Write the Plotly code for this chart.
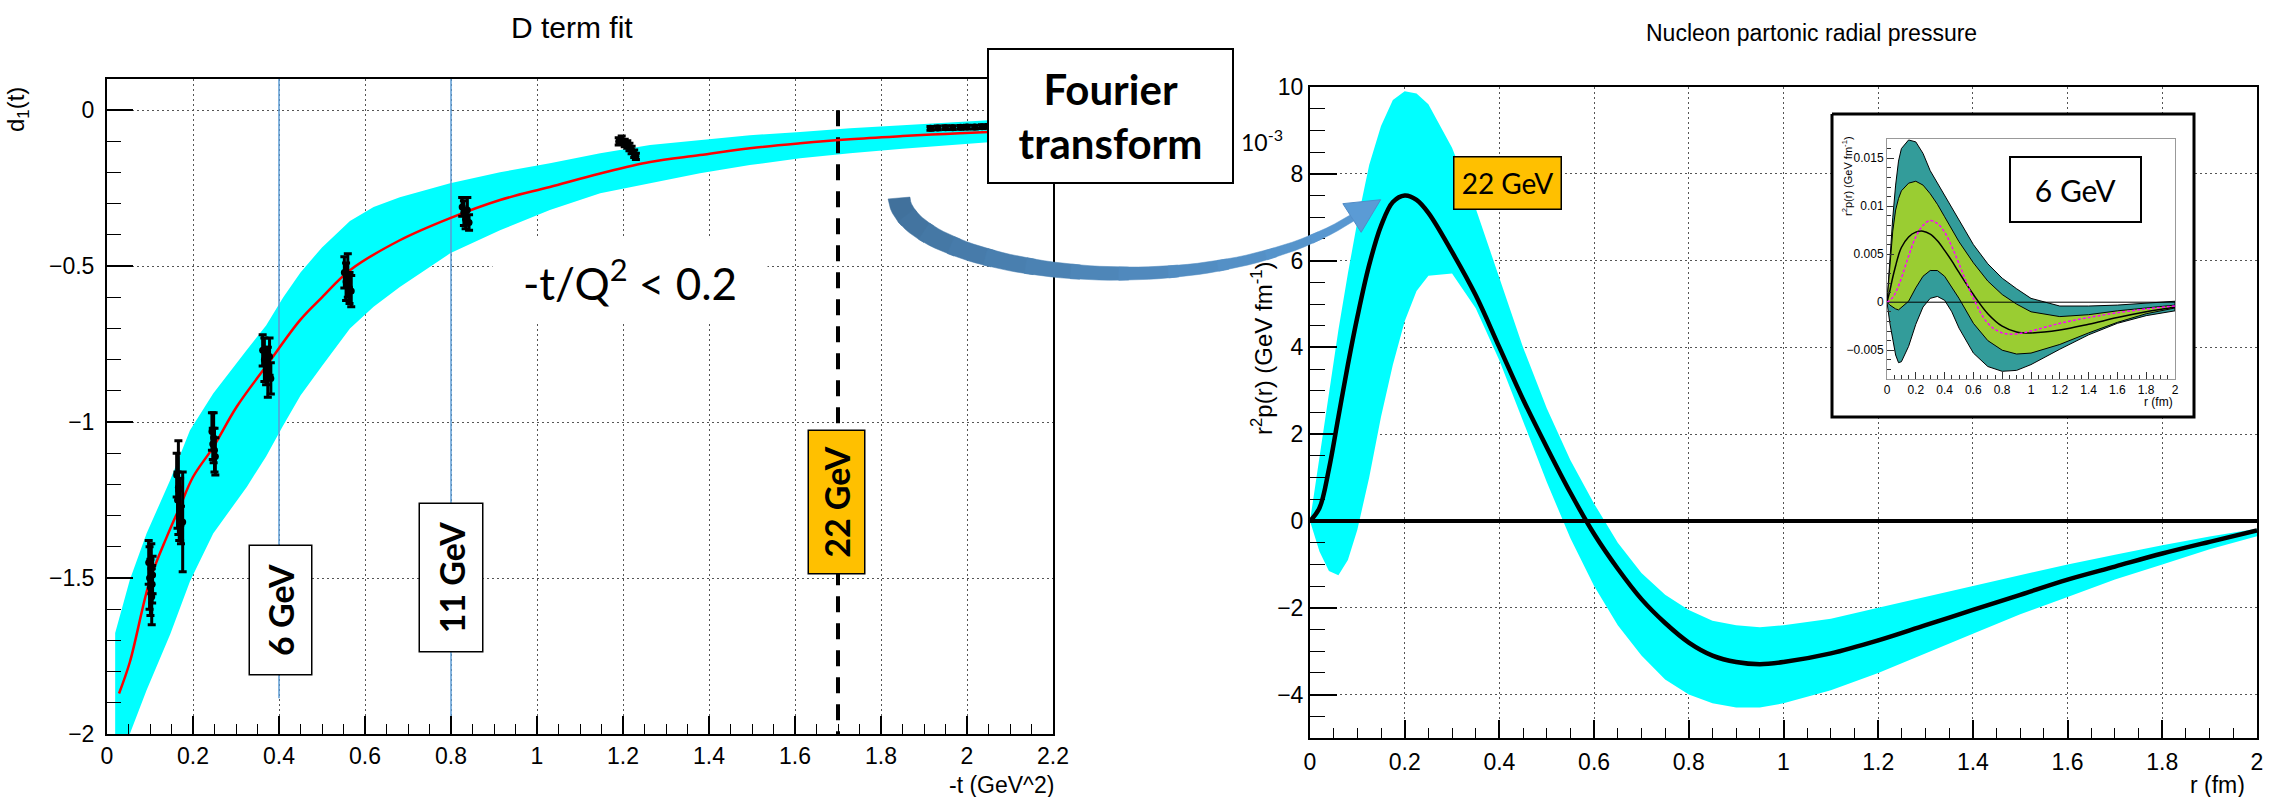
import numpy as np
import plotly.graph_objects as go

W, H = 2272, 797
ROOT = "Liberation Sans, Arial, Helvetica, sans-serif"
SLIDE = "Lato, Open Sans, sans-serif"

# ---------------- Left panel: D term fit ----------------
fit_t = [0.028, 0.053, 0.10, 0.139, 0.17, 0.20, 0.247, 0.302, 0.372, 0.449, 0.50, 0.565, 0.681,
         0.798, 0.914, 1.03, 1.147, 1.263, 1.379, 1.495, 1.612, 1.728, 1.85, 1.95, 2.05, 2.2]
fit_d = [-1.87, -1.77, -1.506, -1.368, -1.27, -1.176, -1.08, -0.95, -0.817, -0.673, -0.60, -0.513,
         -0.417, -0.346, -0.288, -0.246, -0.203, -0.166, -0.144, -0.122, -0.106, -0.093, -0.083,
         -0.076, -0.07, -0.062]
band_t = [0.019, 0.053, 0.092, 0.147, 0.193, 0.247, 0.325, 0.37, 0.41, 0.45, 0.50, 0.565, 0.62,
          0.681, 0.798, 0.914, 1.03, 1.147, 1.263, 1.379, 1.495, 1.612, 1.728, 1.85, 1.95, 2.05,
          2.2]
band_up = [-1.676, -1.506, -1.357, -1.186, -1.026, -0.908, -0.769, -0.69, -0.60, -0.52, -0.44,
           -0.355, -0.31, -0.279, -0.234, -0.199, -0.17, -0.138, -0.112, -0.096, -0.08, -0.07,
           -0.058, -0.048, -0.04, -0.032, -0.025]
band_lo = [-2.2, -2.0, -1.86, -1.68, -1.51, -1.357, -1.208, -1.11, -1.01, -0.915, -0.82, -0.70,
           -0.63, -0.567, -0.459, -0.385, -0.32, -0.266, -0.234, -0.202, -0.176, -0.154, -0.138,
           -0.124, -0.113, -0.103, -0.09]

pts_t = [0.097, 0.099, 0.101, 0.103, 0.104, 0.105, 0.106,
         0.162, 0.164, 0.166, 0.168, 0.170, 0.172, 0.176,
         0.244, 0.246, 0.248, 0.250, 0.252,
         0.362, 0.366, 0.370, 0.374, 0.378, 0.381,
         0.552, 0.556, 0.560, 0.564, 0.568,
         0.826, 0.830, 0.834, 0.838, 0.842,
         1.190, 1.197, 1.204, 1.210, 1.215, 1.220, 1.226, 1.230,
         1.915, 1.932, 1.950, 1.967, 1.985, 2.000, 2.018, 2.035, 2.050]
pts_d = [-1.45, -1.50, -1.53, -1.47, -1.56, -1.52, -1.49,
         -1.17, -1.25, -1.21, -1.30, -1.28, -1.33, -1.32,
         -1.03, -1.07, -1.05, -1.09, -1.11,
         -0.77, -0.80, -0.82, -0.84, -0.79, -0.86,
         -0.52, -0.55, -0.53, -0.57, -0.58,
         -0.31, -0.33, -0.35, -0.32, -0.36,
         -0.100, -0.095, -0.105, -0.110, -0.118, -0.128, -0.140, -0.148,
         -0.058, -0.057, -0.056, -0.056, -0.055, -0.054, -0.054, -0.053, -0.052]
pts_err = [0.07, 0.10, 0.09, 0.08, 0.09, 0.06, 0.06,
           0.07, 0.09, 0.15, 0.08, 0.10, 0.06, 0.16,
           0.06, 0.05, 0.08, 0.07, 0.06,
           0.05, 0.07, 0.06, 0.08, 0.06, 0.05,
           0.05, 0.06, 0.07, 0.05, 0.05,
           0.03, 0.04, 0.03, 0.04, 0.025,
           0.012, 0.012, 0.012, 0.012, 0.012, 0.012, 0.012, 0.010,
           0.006, 0.006, 0.006, 0.006, 0.006, 0.006, 0.006, 0.006, 0.006]

beam_lines_t = [0.4, 0.8]          # 6 GeV and 11 GeV reach
beam_lines_bottom = [-1.885, -1.97]
cut_t = 1.7                         # 22 GeV reach

# ---------------- Right panel: radial pressure (x 1e-3) ----------------
r_vals = [0, 0.02, 0.04, 0.06, 0.08, 0.1, 0.125, 0.15, 0.175, 0.2, 0.225, 0.25, 0.3, 0.35, 0.4,
          0.45, 0.5, 0.55, 0.6, 0.65, 0.7, 0.75, 0.8, 0.85, 0.9, 0.95, 1.0, 1.1, 1.2, 1.3, 1.4,
          1.5, 1.6, 1.7, 1.8, 1.9, 2.0]
p_center = [0, 0.3, 1.2, 2.4, 3.6, 4.7, 5.9, 6.8, 7.35, 7.5, 7.4, 7.1, 6.2, 5.2, 4.0, 2.8, 1.7,
            0.65, -0.3, -1.1, -1.8, -2.35, -2.8, -3.1, -3.25, -3.3, -3.25, -3.05, -2.75, -2.4,
            -2.05, -1.7, -1.35, -1.05, -0.75, -0.48, -0.22]
p_up = [0, 1.5, 3.0, 4.4, 5.7, 6.9, 8.2, 9.1, 9.7, 9.9, 9.85, 9.6, 8.6, 7.2, 5.6, 4.0, 2.6, 1.4,
        0.4, -0.5, -1.2, -1.7, -2.05, -2.3, -2.4, -2.45, -2.4, -2.25, -2.0, -1.75, -1.5, -1.25,
        -1.0, -0.78, -0.56, -0.36, -0.18]
p_lo = [0, -0.7, -1.15, -1.25, -0.9, -0.2, 1.0, 2.4, 3.6, 4.6, 5.3, 5.65, 5.7, 4.9, 3.7, 2.3, 0.9,
        -0.4, -1.5, -2.4, -3.1, -3.65, -4.0, -4.2, -4.3, -4.3, -4.2, -3.9, -3.5, -3.05, -2.6,
        -2.15, -1.75, -1.35, -1.0, -0.65, -0.35]

# ---------------- Inset: 6 GeV projection ----------------
ri = [0, 0.02, 0.04, 0.06, 0.08, 0.1, 0.15, 0.2, 0.25, 0.3, 0.35, 0.4, 0.45, 0.5, 0.6, 0.7, 0.8,
      0.9, 1.0, 1.2, 1.4, 1.6, 1.8, 2.0]
in_outer_up = [0, 0.0045, 0.0088, 0.0122, 0.0147, 0.0160, 0.0169, 0.0167, 0.0155, 0.0137, 0.0124,
               0.0111, 0.0098, 0.0085, 0.0060, 0.0040, 0.0025, 0.0014, 0.0004, -0.0004, -0.0004,
               -0.0003, -0.0001, 0.0001]
in_outer_lo = [0, -0.0022, -0.0040, -0.0055, -0.0063, -0.0062, -0.0046, -0.0023, -0.0005, 0.0004,
               0.0006, 0.0002, -0.0010, -0.0027, -0.0053, -0.0067, -0.0072, -0.0071, -0.0065,
               -0.0049, -0.0034, -0.0022, -0.0014, -0.0009]
in_green_up = [0, 0.0040, 0.0074, 0.0096, 0.0108, 0.0116, 0.0124, 0.0126, 0.0122, 0.0113, 0.0102,
               0.0089, 0.0076, 0.0063, 0.0041, 0.0022, 0.0008, -0.0002, -0.0010, -0.0015, -0.0013,
               -0.0009, -0.0006, -0.0003]
in_green_lo = [0, -0.0003, -0.0005, -0.0007, -0.0008, -0.0006, 0.0001, 0.0015, 0.0027, 0.0033,
               0.0033, 0.0027, 0.0016, 0.0004, -0.0022, -0.0040, -0.0050, -0.0054, -0.0053,
               -0.0044, -0.0032, -0.0021, -0.0012, -0.0006]
in_center = [0, 0.0012, 0.0026, 0.0038, 0.0049, 0.0057, 0.0068, 0.0073, 0.0074, 0.0071, 0.0064,
             0.0054, 0.0043, 0.0031, 0.0008, -0.0012, -0.0025, -0.0031, -0.0032, -0.0029, -0.0023,
             -0.0016, -0.0010, -0.0005]
in_magenta = [0, 0.0002, 0.0005, 0.0010, 0.0017, 0.0025, 0.0048, 0.0068, 0.0080, 0.0085, 0.0082,
              0.0073, 0.0058, 0.0040, 0.0004, -0.0022, -0.0032, -0.0033, -0.0030, -0.0022,
              -0.0016, -0.0011, -0.0007, -0.0004]
in_yticks = [-0.005, 0, 0.005, 0.01, 0.015]

fig = go.Figure()

# ---- left panel traces ----
fig.add_trace(go.Scatter(x=band_t + band_t[::-1], y=band_up + band_lo[::-1], fill="toself",
                         fillcolor="#00ffff", line=dict(width=0), mode="lines",
                         xaxis="x", yaxis="y", hoverinfo="skip"))
bx, by = [], []
for t, yb in zip(beam_lines_t, beam_lines_bottom):
    bx += [t, t, None]
    by += [0.1, yb, None]
fig.add_trace(go.Scatter(x=bx, y=by, mode="lines", line=dict(color="#5b9bd5", width=1.5),
                         xaxis="x", yaxis="y"))
fig.add_trace(go.Scatter(x=[cut_t, cut_t], y=[0, -2.1], mode="lines",
                         line=dict(color="black", width=4, dash="16px,11px"),
                         xaxis="x", yaxis="y"))
fig.add_trace(go.Scatter(x=fit_t, y=fit_d, mode="lines", line=dict(color="#ff0000", width=2.5),
                         line_shape="spline", xaxis="x", yaxis="y"))
fig.add_trace(go.Scatter(x=pts_t, y=pts_d, mode="markers",
                         marker=dict(color="black", size=7),
                         error_y=dict(type="data", array=pts_err, color="black", thickness=3,
                                      width=4),
                         xaxis="x", yaxis="y"))

# ---- right panel traces ----
fig.add_trace(go.Scatter(x=r_vals + r_vals[::-1], y=p_up + p_lo[::-1], fill="toself",
                         fillcolor="#00ffff", line=dict(width=0), mode="lines",
                         xaxis="x2", yaxis="y2"))
fig.add_trace(go.Scatter(x=[0, 2], y=[0, 0], mode="lines", line=dict(color="black", width=4),
                         xaxis="x2", yaxis="y2"))
fig.add_trace(go.Scatter(x=r_vals, y=p_center, mode="lines", line=dict(color="black", width=4.5),
                         line_shape="spline", xaxis="x2", yaxis="y2"))

# ---- overlay (pixel space) decorations ----
fig.add_trace(go.Scatter(x=[1832, 2194, 2194, 1832, 1832], y=[114, 114, 417, 417, 114],
                         fill="toself", fillcolor="white", mode="lines",
                         line=dict(color="black", width=3), xaxis="x3", yaxis="y3"))

P = np.array([[899, 198], [905, 270], [1200, 315], [1352, 218]], float)
tt = np.linspace(0, 1, 61)
B = (((1 - tt) ** 3)[:, None] * P[0] + (3 * (1 - tt) ** 2 * tt)[:, None] * P[1]
     + (3 * (1 - tt) * tt ** 2)[:, None] * P[2] + (tt ** 3)[:, None] * P[3])
dB = ((3 * (1 - tt) ** 2)[:, None] * (P[1] - P[0]) + (6 * (1 - tt) * tt)[:, None] * (P[2] - P[1])
      + (3 * tt ** 2)[:, None] * (P[3] - P[2]))
T = dB / np.linalg.norm(dB, axis=1)[:, None]
N = np.stack([-T[:, 1], T[:, 0]], axis=1)
wid = 22 + (7 - 22) * tt
L = B + N * (wid / 2)[:, None]
R = B - N * (wid / 2)[:, None]
c0 = np.array([65, 113, 156])
c1 = np.array([91, 155, 213])
nseg = 12
idx = np.linspace(0, len(tt) - 1, nseg + 1).astype(int)
for k in range(nseg):
    a, b = idx[k], min(idx[k + 1] + 1, len(tt) - 1)
    poly = np.vstack([L[a:b + 1], R[a:b + 1][::-1]])
    col = c0 + (c1 - c0) * (k / nseg)
    cs = "rgb(%d,%d,%d)" % tuple(col)
    fig.add_trace(go.Scatter(x=list(poly[:, 0]) + [poly[0, 0]], y=list(poly[:, 1]) + [poly[0, 1]],
                             fill="toself", fillcolor=cs, mode="lines",
                             line=dict(color=cs, width=0.5), xaxis="x3", yaxis="y3"))
Te, Ne = T[-1], N[-1]
head = np.array([P[3] + Ne * 17, P[3] + Te * 34, P[3] - Ne * 17, P[3] + Ne * 17])
fig.add_trace(go.Scatter(x=head[:, 0], y=head[:, 1], fill="toself", fillcolor="rgb(91,155,213)",
                         mode="lines", line=dict(color="rgb(80,140,200)", width=1),
                         xaxis="x3", yaxis="y3"))

# ---- inset traces ----
fig.add_trace(go.Scatter(x=ri + ri[::-1], y=in_outer_up + in_outer_lo[::-1], fill="toself",
                         fillcolor="#339c9a", mode="lines", line=dict(color="black", width=1),
                         xaxis="x4", yaxis="y4"))
fig.add_trace(go.Scatter(x=ri + ri[::-1], y=in_green_up + in_green_lo[::-1], fill="toself",
                         fillcolor="#9acd32", mode="lines", line=dict(color="black", width=1),
                         xaxis="x4", yaxis="y4"))
fig.add_trace(go.Scatter(x=[0, 2], y=[0, 0], mode="lines", line=dict(color="black", width=1),
                         xaxis="x4", yaxis="y4"))
fig.add_trace(go.Scatter(x=ri, y=in_center, mode="lines", line=dict(color="black", width=1.5),
                         line_shape="spline", xaxis="x4", yaxis="y4"))
fig.add_trace(go.Scatter(x=ri, y=in_magenta, mode="lines",
                         line=dict(color="#ff00ff", width=1.5, dash="3px,2px"),
                         line_shape="spline", xaxis="x4", yaxis="y4"))

# ---------------- axes ----------------
tickfont = dict(family=ROOT, size=23, color="black")
grid = dict(showgrid=True, gridcolor="#555", gridwidth=1, griddash="2px,3px")
frame = dict(showline=True, linecolor="black", linewidth=2, mirror=True, zeroline=False,
             ticks="inside", tickcolor="black", tickwidth=1.5, tickfont=tickfont,
             automargin=False)


def minor(dt, ln):
    return dict(ticks="inside", dtick=dt, ticklen=ln, tickcolor="black", tickwidth=1.2,
                showgrid=False)


inset_font = dict(family=ROOT, size=12, color="black")

fig.update_layout(
    template="none",
    width=W, height=H, autosize=False,
    margin=dict(l=0, r=0, t=0, b=0, pad=0),
    paper_bgcolor="white", plot_bgcolor="rgba(0,0,0,0)",
    showlegend=False,
    xaxis=dict(domain=[107 / W, 1053 / W], range=[0, 2.2], dtick=0.2, tick0=0, ticklen=18,
               minor=minor(0.05, 10), ticklabelstandoff=0, anchor="y", **frame, **grid),
    yaxis=dict(domain=[1 - 734 / H, 1 - 79 / H], range=[-2, 0.1], dtick=0.5, tick0=0,
               ticklen=26, minor=minor(0.1, 14), ticklabelstandoff=6, anchor="x",
               **frame, **grid),
    xaxis2=dict(domain=[1310 / W, 2257 / W], range=[0, 2], dtick=0.2, tick0=0, ticklen=18,
                minor=minor(0.05, 10), ticklabelstandoff=2, anchor="y2", **frame, **grid),
    yaxis2=dict(domain=[1 - 738 / H, 1 - 87 / H], range=[-5, 10], dtick=2, tick0=0,
                ticklen=27, minor=minor(0.5, 15), ticklabelstandoff=0, anchor="x2",
                **frame, **grid),
    xaxis3=dict(domain=[0, 1], range=[0, W], visible=False, anchor="y3", automargin=False),
    yaxis3=dict(domain=[0, 1], range=[H, 0], visible=False, anchor="x3", automargin=False),
    xaxis4=dict(domain=[1887 / W, 2175 / W], range=[0, 2], dtick=0.2, tick0=0, showline=True,
                linecolor="#999", linewidth=1, mirror=True, zeroline=False, showgrid=False,
                ticks="inside", ticklen=7, tickcolor="#333", tickwidth=1,
                minor=dict(ticks="inside", dtick=0.05, ticklen=4, tickcolor="#333", showgrid=False),
                tickfont=inset_font, anchor="y4", automargin=False, ticklabelstandoff=0),
    yaxis4=dict(domain=[1 - 379 / H, 1 - 139 / H], range=[-0.008, 0.017], tickvals=in_yticks,
                showline=True, linecolor="#999", linewidth=1, mirror=True, zeroline=False,
                showgrid=False, ticks="inside", ticklen=7, tickcolor="#333", tickwidth=1,
                minor=dict(ticks="inside", dtick=0.001, ticklen=4, tickcolor="#333",
                           showgrid=False),
                tickfont=inset_font, anchor="x4", automargin=False, ticklabelstandoff=0),
)

ann = []


def label(text, x, y, size, family=ROOT, **kw):
    d = dict(text=text, x=x, y=y, xref="x3", yref="y3", showarrow=False,
             font=dict(family=family, size=size, color="black"))
    d.update(kw)
    ann.append(d)


label("D term fit", 572, 27, 30)
label("Nucleon partonic radial pressure", 1811, 33, 23)
label("d<sub>1</sub>(t)", 17, 110, 24, textangle=-90)
label("-t (GeV^2)", 1056, 785, 23, xanchor="right")
label("r (fm)", 2247, 785, 23, xanchor="right")
label("r<sup>2</sup>p(r) (GeV fm<sup>-1</sup>)", 1262, 348, 24, textangle=-90)
label("10<sup>-3</sup>", 1262, 140, 23, SLIDE)
label("<b>Fourier<br>transform</b>", 1110, 115.5, 42, SLIDE, width=243, height=132,
      bgcolor="white", bordercolor="black", borderwidth=2, borderpad=0)
label("-t/Q<sup>2</sup> &lt; 0.2", 630, 280, 44, SLIDE, width=274, height=86, bgcolor="white",
      borderpad=0)
label("<b>6 GeV</b>", 280, 610.5, 34, SLIDE, textangle=-90, width=128, height=61,
      bgcolor="white", bordercolor="black", borderwidth=1.5, borderpad=0)
label("<b>11 GeV</b>", 450.5, 578, 34, SLIDE, textangle=-90, width=147, height=62,
      bgcolor="white", bordercolor="black", borderwidth=1.5, borderpad=0)
label("<b>22 GeV</b>", 836, 502.5, 34, SLIDE, textangle=-90, width=142, height=55,
      bgcolor="#ffc000", bordercolor="black", borderwidth=1.5, borderpad=0)
label("22 GeV", 1507.5, 183, 28, SLIDE, width=106, height=51, bgcolor="#ffc000",
      bordercolor="black", borderwidth=1.5, borderpad=0)
label("6 GeV", 2075, 189, 30, SLIDE, width=129, height=63, bgcolor="white",
      bordercolor="black", borderwidth=2, borderpad=0)
label("r<sup>2</sup>p(r) (GeV fm<sup>-1</sup>)", 1847, 176, 11, textangle=-90)
label("r (fm)", 2175, 402, 12, xanchor="right")

fig.update_layout(annotations=ann)

fig.write_html("out.html",
               post_script="document.body.style.margin='0';document.body.style.overflow='hidden';")
